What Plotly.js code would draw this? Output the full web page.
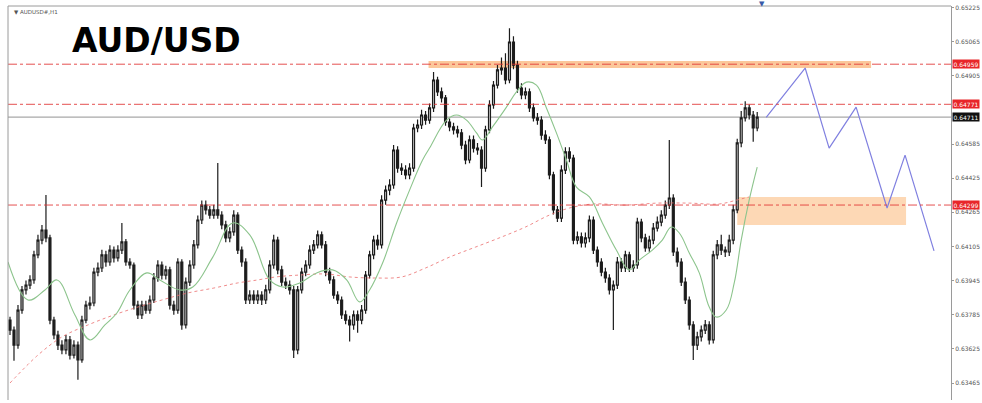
<!DOCTYPE html>
<html>
<head>
<meta charset="utf-8">
<script src="https://cdn.plot.ly/plotly-3.0.1.min.js"></script>
<style>html,body{margin:0;padding:0;background:#fff;}#chart{width:982px;height:403px;}</style>
</head>
<body>
<div id="chart"></div>
<script>
// Prices are stored in points (1e-5)
const opens = [63760,63713,63643,63807,63901,63924,63948,64065,64135,64182,64145,63760,63690,63643,63620,63667,63596,63643,63573,63760,
63830,63840,63985,64004,64065,64032,64088,64051,64088,64126,64032,64018,63830,63784,63830,63807,63854,63957,64018,63971,
63995,63830,63807,64032,63737,63938,64018,64112,64229,64299,64276,64252,64276,64252,64206,64145,64173,64252,64088,64032,
63854,63877,63854,63877,63854,63901,64018,64135,63995,63938,63924,63901,63620,63901,63985,64018,64088,64112,64159,64112,
63985,63948,63877,63854,63784,63760,63737,63784,63760,63807,63971,64065,64135,64112,64322,64369,64393,64557,64472,64463,
64440,64472,64660,64674,64721,64697,64754,64885,64829,64801,64688,64665,64651,64637,64580,64510,64604,64566,64557,64472,
64651,64768,64861,64932,64941,64885,65063,64955,64847,64815,64829,64754,64707,64697,64627,64604,64440,64276,64238,64463,
64548,64519,64135,64150,64121,64145,64229,64088,64032,63985,63957,63901,63924,64032,64004,64065,64004,64018,64219,64145,
64098,64135,64191,64219,64252,64299,64332,64079,64032,63938,63854,63737,63643,63681,63713,63737,63667,64065,64112,64088,
64079,64135,64276,64590,64707,64754,64721,64660];
const highs = [63775,63730,63830,63920,63945,63970,64085,64160,64205,64346,64160,63775,63710,63665,63690,63685,63665,63660,63780,63850,
63870,64005,64030,64090,64085,64110,64105,64110,64215,64140,64050,64030,63850,63850,63850,63875,63980,64040,64035,64015,
64010,63850,64050,64045,63960,64040,64135,64250,64320,64320,64295,64300,64496,64270,64225,64195,64275,64265,64105,64050,
63900,63900,63900,63895,63925,64040,64160,64150,64015,63960,63945,63920,63920,64005,64040,64110,64135,64180,64175,64130,
64005,63965,63895,63870,63805,63780,63805,63805,63830,63990,64085,64155,64160,64345,64390,64420,64580,64575,64495,64485,
64495,64680,64700,64745,64740,64775,64922,64900,64850,64815,64705,64685,64670,64655,64600,64625,64625,64590,64575,64670,
64790,64880,64955,64990,65010,65128,65090,64975,64870,64850,64845,64775,64730,64715,64650,64620,64455,64295,64485,64570,
64570,64535,64175,64170,64170,64250,64245,64105,64050,64005,63975,63945,64055,64050,64085,64080,64040,64240,64235,64165,
64155,64215,64245,64275,64320,64604,64350,64100,64050,63960,63870,63755,63705,63735,63760,63755,64085,64135,64160,64105,
64160,64300,64610,64740,64785,64770,64740,64735];
const lows = [63690,63569,63625,63790,63880,63905,63930,64050,64115,64125,63740,63670,63620,63600,63600,63575,63580,63480,63560,63745,
63810,63825,63965,63985,64010,64015,64030,64035,64070,64015,64000,63810,63765,63765,63790,63790,63840,63940,63950,63950,
63810,63785,63790,63715,63720,63920,64000,64095,64210,64255,64235,64235,64235,64185,64125,64125,64155,64070,64010,63835,
63835,63835,63835,63830,63835,63885,64000,63975,63920,63905,63880,63582,63600,63885,63965,64000,64070,64095,64095,63965,
63930,63860,63835,63765,63740,63660,63715,63700,63740,63790,63955,64045,64090,64095,64300,64345,64375,64450,64440,64420,
64420,64455,64640,64655,64675,64680,64735,64810,64780,64670,64645,64630,64615,64560,64490,64495,64545,64535,64384,64455,
64635,64750,64845,64910,64865,64870,64935,64825,64795,64795,64735,64690,64675,64605,64585,64420,64255,64219,64220,64445,
64500,64115,64115,64100,64100,64125,64070,64010,63965,63935,63880,63713,63905,63985,63985,63985,63985,64000,64125,64080,
64080,64115,64175,64200,64235,64280,64060,64010,63920,63835,63715,63573,63620,63660,63695,63645,63650,64045,64065,64055,
64060,64115,64260,64570,64690,64700,64595,64645];
const closes = [63713,63643,63807,63901,63924,63948,64065,64135,64182,64145,63760,63690,63643,63620,63667,63596,63643,63573,63760,63830,
63840,63985,64004,64065,64032,64088,64051,64088,64126,64032,64018,63830,63784,63830,63807,63854,63957,64018,63971,63995,
63830,63807,64032,63737,63938,64018,64112,64229,64299,64276,64252,64276,64252,64206,64145,64173,64252,64088,64032,63854,
63877,63854,63877,63854,63901,64018,64135,63995,63938,63924,63901,63620,63901,63985,64018,64088,64112,64159,64112,63985,
63948,63877,63854,63784,63760,63737,63784,63760,63807,63971,64065,64135,64112,64322,64369,64393,64557,64472,64463,64440,
64472,64660,64674,64721,64697,64754,64885,64829,64801,64688,64665,64651,64637,64580,64510,64604,64566,64557,64472,64651,
64768,64861,64932,64941,64885,65063,64955,64847,64815,64829,64754,64707,64697,64627,64604,64440,64276,64238,64463,64548,
64519,64135,64150,64121,64145,64229,64088,64032,63985,63957,63901,63924,64032,64004,64065,64004,64018,64219,64145,64098,
64135,64191,64219,64252,64299,64332,64079,64032,63938,63854,63737,63643,63681,63713,63737,63667,64065,64112,64088,64079,
64135,64276,64590,64707,64754,64721,64660,64711];

// Fast moving average (green)
const maFastX = [-0.5,4.5,8.75,11.75,16.25,20,23.75,26.75,30,34.25,37.5,42.5,45.75,50.75,55.75,60,65,68.25,72.5,76.75,80.75,84.25,87.5,90,93.25,96.75,100,103.25,105,109.25,111.75,114.25,116.75,118.25,120.75,124.25,126.75,129.25,131.75,134.25,136.75,139.25,141.75,145,148.25,151.75,155,157.5,160.75,163.25,165.5,167.5,170,172.5,175,176.75,179.25,181.25,183,185,187];
const maFastY = [64032,63854,63901,63948,63784,63667,63737,63793,63901,63981,63948,63901,63915,64055,64215,64159,63948,63915,63934,63981,63995,63948,63845,63901,64027,64215,64369,64510,64566,64697,64721,64697,64637,64604,64665,64758,64829,64875,64861,64754,64637,64510,64383,64337,64215,64088,63995,64041,64088,64135,64196,64168,64074,63981,63821,63774,63807,63934,64135,64323,64477];
// Slow moving average (red dotted)
const maSlowX = [0,7,13,19.5,26,32,38,44.5,51,57,62,66.5,72.5,79,85,91.5,98,104,110,116.5,123,129,135,140,146,154,162,170,177.5,182,185];
const maSlowY = [63465,63596,63681,63737,63784,63821,63854,63887,63910,63934,63948,63962,63971,63976,63962,63957,63962,64004,64055,64102,64149,64196,64252,64285,64304,64299,64308,64308,64304,64323,64337];
// Projected path (blue)
const projX = [189.25,199,205,211.75,219.5,224,231.25];
const projY = [64710,64941,64566,64758,64285,64533,64084];

const levels = [0.64959, 0.64771, 0.64299];
const levelLabels = ['0.64959', '0.64771', '0.64299'];
const bidLevel = 0.64711;
const bidLabel = '0.64711';
const zoneX0 = [104.75, 182];
const zoneX1 = [215.5, 224.25];
const zoneY0 = [0.64941, 0.64205];
const zoneY1 = [0.64974, 0.64337];
const zoneColors = ['rgba(250,180,120,0.75)', 'rgba(252,200,150,0.7)'];
const tickVals = [0.65225,0.65065,0.64905,0.64585,0.64425,0.64265,0.64105,0.63945,0.63785,0.63625,0.63465];

const sc = v => v / 100000;
const idx = closes.map((_, i) => i);

const traces = [
  {
    type: 'scatter', mode: 'lines', x: maSlowX, y: maSlowY.map(sc),
    line: {color: 'rgba(235,110,110,0.8)', width: 1, dash: 'dot', shape: 'spline'}, hoverinfo: 'skip'
  },
  {
    type: 'scatter', mode: 'lines', x: maFastX, y: maFastY.map(sc),
    line: {color: '#8cc48c', width: 1.1, shape: 'spline', smoothing: 1.1}, hoverinfo: 'skip'
  },
  {
    type: 'candlestick', x: idx,
    open: opens.map(sc), high: highs.map(sc), low: lows.map(sc), close: closes.map(sc),
    increasing: {line: {color: '#1c1c1c', width: 1.2}, fillcolor: '#d6d6d6'},
    decreasing: {line: {color: '#1c1c1c', width: 1.2}, fillcolor: '#1c1c1c'},
    whiskerwidth: 0, hoverinfo: 'skip'
  },
  {
    type: 'scatter', mode: 'lines', x: projX, y: projY.map(sc),
    line: {color: '#8080e0', width: 1.2}, hoverinfo: 'skip'
  }
];

const shapes = [];
zoneX0.forEach((x0, i) => {
  shapes.push({type: 'rect', xref: 'x', yref: 'y', x0: x0, x1: zoneX1[i], y0: zoneY0[i], y1: zoneY1[i],
    fillcolor: zoneColors[i], line: {width: 0}, layer: 'below'});
});
levels.forEach(v => {
  shapes.push({type: 'line', xref: 'paper', yref: 'y', x0: 0, x1: 1, y0: v, y1: v,
    line: {color: 'rgba(225,50,50,0.85)', width: 1, dash: 'dashdot'}, layer: 'above'});
});
shapes.push({type: 'line', xref: 'paper', yref: 'y', x0: 0, x1: 1, y0: bidLevel, y1: bidLevel,
  line: {color: '#a8a8a8', width: 1.2}, layer: 'below'});
shapes.push({type: 'line', xref: 'paper', yref: 'paper', x0: 0, x1: 0, y0: 0, y1: 1, line: {color: '#9a9a9a', width: 1}});
shapes.push({type: 'line', xref: 'paper', yref: 'paper', x0: 0, x1: 1, y0: 1, y1: 1, line: {color: '#9a9a9a', width: 1}});

const annotations = [];
levels.forEach((v, i) => {
  annotations.push({xref: 'paper', yref: 'y', x: 1, y: v, xanchor: 'left', yanchor: 'middle', showarrow: false,
    text: levelLabels[i], font: {family: 'DejaVu Sans', size: 6, color: '#ffffff'},
    bgcolor: '#e8262a', borderpad: 0.5, xshift: 1});
});
annotations.push({xref: 'paper', yref: 'y', x: 1, y: bidLevel, xanchor: 'left', yanchor: 'middle', showarrow: false,
  text: bidLabel, font: {family: 'DejaVu Sans', size: 6, color: '#ffffff'},
  bgcolor: '#111111', borderpad: 0.5, xshift: 1});
annotations.push({xref: 'paper', yref: 'paper', x: 0.004, y: 0.985, xanchor: 'left', yanchor: 'middle', showarrow: false,
  text: '▼ AUDUSD#,H1', font: {family: 'DejaVu Sans', size: 5.5, color: '#555'}});
annotations.push({xref: 'x', yref: 'paper', x: 188.25, y: 1.006, xanchor: 'center', yanchor: 'middle', showarrow: false,
  text: '▼', font: {family: 'DejaVu Sans', size: 7, color: '#3a5aa8'}});

const layout = {
  width: 982, height: 403,
  margin: {l: 8, r: 31, t: 6, b: 3},
  paper_bgcolor: '#ffffff', plot_bgcolor: '#ffffff',
  showlegend: false,
  title: {text: 'AUD/USD', xref: 'container', yref: 'container', x: 72/982, xanchor: 'left', y: 1 - 40/403, yanchor: 'middle',
    font: {family: 'DejaVu Sans', size: 33, weight: 'bold', color: '#000000'}},
  xaxis: {range: [-0.5, 235.5], visible: false, rangeslider: {visible: false}, fixedrange: true},
  yaxis: {range: [0.633854, 0.652317], side: 'right', tickvals: tickVals, ticktext: tickVals.map(v => v.toFixed(5)),
    showgrid: false, zeroline: false, showline: true, linecolor: '#9a9a9a', linewidth: 1,
    ticks: 'outside', ticklen: 2, tickcolor: '#9a9a9a', automargin: false,
    tickfont: {family: 'DejaVu Sans', size: 6, color: '#555'}},
  shapes: shapes,
  annotations: annotations
};

Plotly.newPlot('chart', traces, layout, {staticPlot: true, displayModeBar: false});
</script>
</body>
</html>
